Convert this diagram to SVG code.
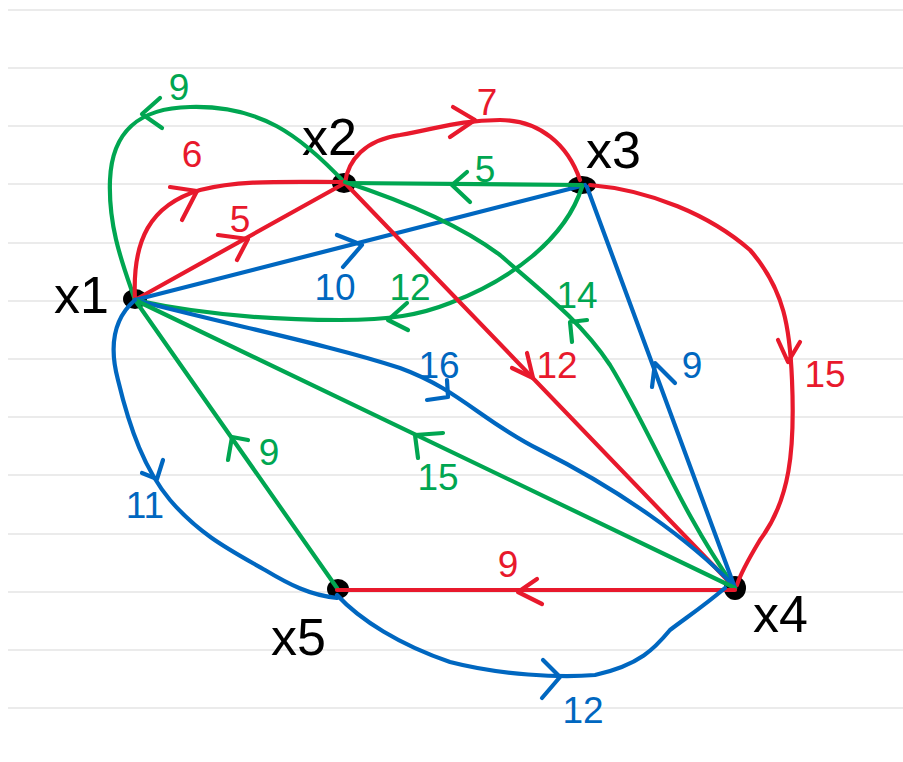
<svg xmlns="http://www.w3.org/2000/svg" width="903" height="762" viewBox="0 0 903 762">
<style>
.rule{stroke:#e4e4e4;stroke-width:1.6}
.e{fill:none;stroke-width:4.2;stroke-linecap:round;stroke-linejoin:round}
.r{stroke:#e8192c}.g{stroke:#00a651}.b{stroke:#0067c0}
.lab{font-family:"Liberation Sans",Arial,sans-serif;font-size:37px;text-anchor:middle}
.tr{fill:#e8192c}.tg{fill:#00a651}.tb{fill:#0067c0}
.nl{font-family:"Liberation Sans",Arial,sans-serif;font-size:52px;fill:#000}
.dot{fill:#000}
</style>
<rect width="903" height="762" fill="#fff"/>
<g id="rules">
<line class="rule" x1="8" y1="10" x2="903" y2="10"/>
<line class="rule" x1="8" y1="68" x2="903" y2="68"/>
<line class="rule" x1="8" y1="126" x2="903" y2="126"/>
<line class="rule" x1="8" y1="184" x2="903" y2="184"/>
<line class="rule" x1="8" y1="243" x2="903" y2="243"/>
<line class="rule" x1="8" y1="301" x2="903" y2="301"/>
<line class="rule" x1="8" y1="359" x2="903" y2="359"/>
<line class="rule" x1="8" y1="417" x2="903" y2="417"/>
<line class="rule" x1="8" y1="475" x2="903" y2="475"/>
<line class="rule" x1="8" y1="534" x2="903" y2="534"/>
<line class="rule" x1="8" y1="592" x2="903" y2="592"/>
<line class="rule" x1="8" y1="650" x2="903" y2="650"/>
<line class="rule" x1="8" y1="708" x2="903" y2="708"/>
</g>
<g id="x1"><ellipse class="dot" cx="135" cy="299" rx="12" ry="10"/><text class="nl" x="54" y="313">x1</text></g>
<g id="x2"><ellipse class="dot" cx="344" cy="183" rx="12" ry="10"/><text class="nl" x="302" y="155">x2</text></g>
<g id="x3"><ellipse class="dot" cx="582" cy="185" rx="14" ry="9"/><text class="nl" x="586" y="168">x3</text></g>
<g id="x4"><ellipse class="dot" cx="735" cy="588" rx="11" ry="12"/><text class="nl" x="753" y="632">x4</text></g>
<g id="x5"><ellipse class="dot" cx="338" cy="589" rx="11" ry="10"/><text class="nl" x="271" y="655">x5</text></g>
<g id="connectors">
<path class="e g" d="M345,183 C300,135 260,105 190,107 C140,108 112,130 110,180 C108,230 125,270 135,300"/>
<path class="e g" d="M160,98 L142,114 L162,128"/>
<path class="e r" d="M135,300 C132,240 150,205 200,190 C240,180 280,182 345,182"/>
<path class="e r" d="M170,187 L197,191 L182,220"/>
<path class="e r" d="M135,300 L345,183"/>
<path class="e r" d="M218,235 L248,239 L237,260"/>
<path class="e b" d="M135,300 L585,185"/>
<path class="e b" d="M337,235 L362,245 L343,267"/>
<path class="e g" d="M582,187 C565,240 510,280 450,303 C420,315 390,320 340,320 C260,320 190,312 135,300"/>
<path class="e g" d="M407,303 L388,320 L408,330"/>
<path class="e g" d="M582,185 L345,183"/>
<path class="e g" d="M467,172 L452,185 L470,202"/>
<path class="e r" d="M345,183 C348,160 365,140 400,135 C440,128 460,120 500,120 C540,120 568,145 580,180"/>
<path class="e r" d="M453,107 L475,120 L450,137"/>
<path class="e r" d="M590,185 C650,190 710,215 750,250 C785,290 790,330 792,380 C795,450 790,500 760,540 C748,560 740,575 737,585"/>
<path class="e r" d="M778,340 L788,362 L800,342"/>
<path class="e r" d="M345,183 L735,588"/>
<path class="e r" d="M512,368 L533,378 L527,353"/>
<path class="e g" d="M345,182 C400,200 460,225 500,255 C540,290 580,320 610,365 C650,430 680,510 733,585"/>
<path class="e g" d="M587,320 L570,322 L572,342"/>
<path class="e b" d="M735,588 L587,187"/>
<path class="e b" d="M652,387 L655,363 L675,383"/>
<path class="e b" d="M135,300 C230,325 330,345 400,368 C460,390 480,420 540,450 C620,490 690,540 733,585"/>
<path class="e b" d="M427,400 L448,397 L447,380"/>
<path class="e g" d="M735,588 L135,300"/>
<path class="e g" d="M443,433 L415,435 L418,458"/>
<path class="e g" d="M337,588 L135,300"/>
<path class="e g" d="M228,460 L232,437 L248,440"/>
<path class="e b" d="M135,300 C112,320 110,350 118,380 C130,430 145,470 170,500 C200,535 230,550 265,570 C290,585 310,595 337,598"/>
<path class="e b" d="M142,473 L157,479 L163,460"/>
<path class="e r" d="M735,590 L337,590"/>
<path class="e r" d="M537,579 L518,592 L542,604"/>
<path class="e b" d="M337,595 C360,620 400,645 450,662 C500,675 560,678 595,675 C640,665 655,648 670,630 C690,615 705,605 725,588"/>
<path class="e b" d="M543,660 L560,677 L542,698"/>
</g>
<g id="labels">
<text class="lab tg" x="179" y="100">9</text>
<text class="lab tr" x="192" y="167">6</text>
<text class="lab tr" x="240" y="232">5</text>
<text class="lab tr" x="487" y="115">7</text>
<text class="lab tg" x="485" y="182">5</text>
<text class="lab tb" x="335" y="300">10</text>
<text class="lab tg" x="410" y="300">12</text>
<text class="lab tg" x="577" y="308">14</text>
<text class="lab tb" x="439" y="378">16</text>
<text class="lab tr" x="557" y="378">12</text>
<text class="lab tb" x="692" y="378">9</text>
<text class="lab tr" x="825" y="387">15</text>
<text class="lab tg" x="269" y="465">9</text>
<text class="lab tg" x="438" y="490">15</text>
<text class="lab tb" x="145" y="518">11</text>
<text class="lab tr" x="508" y="577">9</text>
<text class="lab tb" x="583" y="723">12</text>
</g>
</svg>
